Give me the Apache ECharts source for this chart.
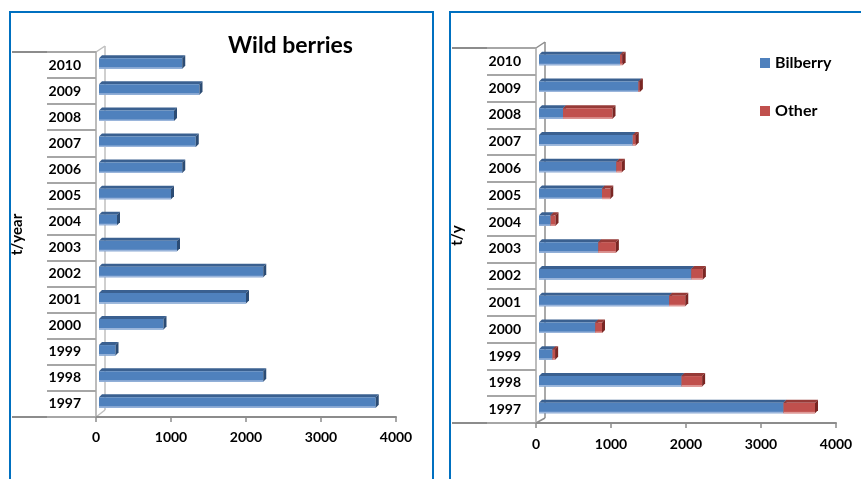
<!DOCTYPE html>
<html>
<head>
<meta charset="utf-8">
<script src="https://cdn.jsdelivr.net/npm/echarts@6/dist/echarts.min.js"></script>
<style>
  html, body { margin: 0; padding: 0; background: #fff; }
  #chart { width: 861px; height: 479px; }
</style>
</head>
<body>
<div id="chart"></div>
<script>
// Harvest years (bottom to top)
const years = ['1997','1998','1999','2000','2001','2002','2003','2004','2005','2006','2007','2008','2009','2010'];
// Total wild berry harvest, t/year
const wildBerries = [3690, 2190, 220, 860, 1960, 2190, 1040, 240, 960, 1110, 1290, 1000, 1340, 1110];
// Split of the harvest, t/y
const bilberry = [3260, 1900, 180, 750, 1735, 2030, 790, 155, 840, 1030, 1250, 320, 1325, 1080];
const other    = [420, 275, 35, 90, 215, 155, 235, 65, 110, 75, 40, 660, 20, 35];
// Value axis ticks
const xTicks = { min: 0, max: 4000, interval: 1000 };

const FONT = 'Lato, "Open Sans", sans-serif';
const BLUE = { front: '#4F81BD', top: '#3A6090', side: '#2C4C74', low: '#9AB5DB' };
const RED  = { front: '#C0504D', top: '#963A37', side: '#7A2623', low: '#DE9A98' };

// Plot areas (pixel layout)
const L = { left: 96, top: 52, right: 396, bottom: 417 };
const R = { left: 536, top: 48, right: 836, bottom: 423 };

// 3D-style bar segment drawn through the axis scales
function bar3d(pal, withSide) {
  return function (params, api) {
    const cat = api.value(0);
    const a = api.coord([api.value(1), cat]);
    const b = api.coord([api.value(2), cat]);
    const off = 3, d = 3, h = 10.5;
    const x0 = a[0] + off, x1 = b[0] + off;
    const yc = a[1] - 1.5;
    const yT = yc - h / 2, yB = yc + h / 2;
    const kids = [
      { type: 'polygon', shape: { points: [[x0, yT], [x1, yT], [x1 + d, yT - d], [x0 + d, yT - d]] },
        style: { fill: pal.top } },
      { type: 'rect', shape: { x: x0, y: yT, width: x1 - x0, height: h },
        style: { fill: pal.front } },
      { type: 'rect', shape: { x: x0, y: yB - 1.5, width: x1 - x0, height: 1.5 },
        style: { fill: pal.low } }
    ];
    if (withSide) {
      kids.push({ type: 'polygon', shape: { points: [[x1, yT], [x1 + d, yT - d], [x1 + d, yB - d], [x1, yB]] },
        style: { fill: pal.side } });
    }
    return { type: 'group', children: kids };
  };
}

const axisGray = '#A6A6A6';
function catAxis(gridIndex, name) {
  return {
    type: 'category', gridIndex: gridIndex, data: years,
    name: name, nameLocation: 'middle', nameGap: 71, nameRotate: 90,
    nameTextStyle: { fontFamily: FONT, fontSize: 15, fontWeight: 'bold', color: '#000' },
    axisLine: { show: true, lineStyle: { color: axisGray, width: 1.5 } },
    axisTick: { show: true, interval: 0, length: 49, lineStyle: { color: axisGray, width: 2 } },
    axisLabel: { margin: 15, fontFamily: FONT, fontSize: 14, fontWeight: 'bold', color: '#000' },
    splitLine: { show: false }
  };
}
function valAxis(gridIndex, margin) {
  return {
    type: 'value', gridIndex: gridIndex, min: xTicks.min, max: xTicks.max, interval: xTicks.interval,
    axisLine: { show: true, lineStyle: { color: '#8C8C8C', width: 2 } },
    axisTick: { show: true, length: 5, lineStyle: { color: '#8C8C8C', width: 1.5 } },
    axisLabel: { margin: margin, fontFamily: FONT, fontSize: 14, fontWeight: 'bold', color: '#000',
      formatter: v => String(v) },
    splitLine: { show: false }
  };
}

// Frame lines around each plot's label column and back wall
function frame(P, leftX, wallTop, wallBottom, wallColor) {
  const line = (x1, y1, x2, y2, color, w) => ({
    type: 'line', silent: true,
    shape: { x1: x1, y1: y1, x2: x2, y2: y2 },
    style: { stroke: color, lineWidth: w }
  });
  return [
    line(leftX, P.top, P.left, P.top, '#8C8C8C', 2),
    line(leftX, P.bottom, P.left, P.bottom, '#8C8C8C', 2),
    line(P.left, P.top, P.left + 9, wallTop, wallColor, 1.5),
    line(P.left + 9, wallTop, P.left + 9, wallBottom, wallColor, 1.5),
    line(P.left + 9, wallBottom, P.left, P.bottom, wallColor, 1.5)
  ];
}

const chart = echarts.init(document.getElementById('chart'), null, { renderer: 'canvas' });
chart.setOption({
  animation: false,
  color: [BLUE.front, RED.front],
  title: {
    text: 'Wild berries', left: 223, top: 29,
    textStyle: { fontFamily: FONT, fontSize: 23, fontWeight: 'bold', color: '#000' }
  },
  legend: {
    orient: 'vertical', left: 755, top: 50, itemWidth: 10, itemHeight: 10, itemGap: 32,
    icon: 'rect', data: ['Bilberry', 'Other'],
    textStyle: { fontFamily: FONT, fontSize: 16, fontWeight: 'bold', color: '#000' }
  },
  grid: [
    { left: L.left, top: L.top, width: L.right - L.left, height: L.bottom - L.top },
    { left: R.left, top: R.top, width: R.right - R.left, height: R.bottom - R.top }
  ],
  xAxis: [valAxis(0, 13), valAxis(1, 14)],
  yAxis: [catAxis(0, 't/year'), catAxis(1, 't/y')],
  graphic: [
    { type: 'rect', silent: true, shape: { x: 10, y: 12, width: 423, height: 520 },
      style: { fill: 'none', stroke: '#0070C0', lineWidth: 2 } },
    { type: 'rect', silent: true, shape: { x: 450, y: 12, width: 460, height: 520 },
      style: { fill: 'none', stroke: '#0070C0', lineWidth: 2 } }
  ].concat(frame(L, 12, 46, 410, '#BFBFBF'), frame(R, 452, 42, 418, '#8C8C8C')),
  series: [
    {
      name: 'Wild berries', type: 'custom', xAxisIndex: 0, yAxisIndex: 0,
      renderItem: bar3d(BLUE, true),
      encode: { x: [1, 2], y: 0 },
      itemStyle: { color: BLUE.front },
      data: wildBerries.map((v, i) => [i, 0, v])
    },
    {
      name: 'Bilberry', type: 'custom', xAxisIndex: 1, yAxisIndex: 1,
      renderItem: bar3d(BLUE, true),
      encode: { x: [1, 2], y: 0 },
      itemStyle: { color: BLUE.front },
      data: bilberry.map((v, i) => [i, 0, v])
    },
    {
      name: 'Other', type: 'custom', xAxisIndex: 1, yAxisIndex: 1,
      renderItem: bar3d(RED, true),
      encode: { x: [1, 2], y: 0 },
      itemStyle: { color: RED.front },
      data: other.map((v, i) => [i, bilberry[i], bilberry[i] + v])
    }
  ]
});
</script>
</body>
</html>
